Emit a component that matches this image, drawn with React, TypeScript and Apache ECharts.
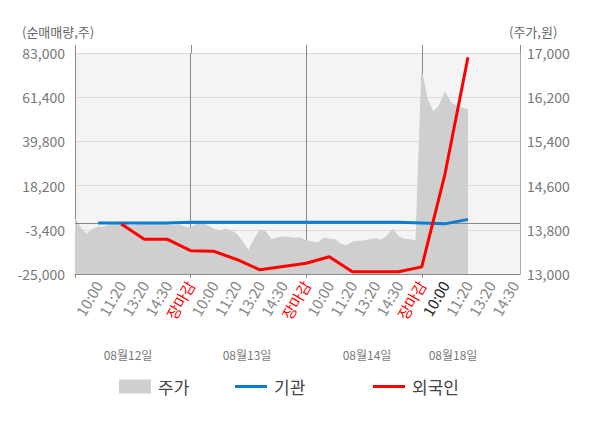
import React, { useEffect, useRef } from "react";
import * as echarts from "echarts";

const DAYS = ["08월12일", "08월13일", "08월14일", "08월18일"];
const SLOT_LABELS = ["10:00", "11:20", "13:20", "14:30", "장마감"];
const HIGHLIGHT_LABEL = "08월18일 10:00";
const STEPS_PER_SLOT = 4;
const SLOTS_PER_DAY = 5;
const TOTAL_STEPS = 77;

const LEFT_TICKS = [-25000, -3400, 18200, 39800, 61400, 83000];
const RIGHT_TICKS = [13000, 13800, 14600, 15400, 16200, 17000];

// 주가 (one value per step)
const PRICE = [
  14000, 13830, 13720, 13810, 13850, 13850, 13890, 13900, 13900, 13890, 13870,
  13890, 13900, 13910, 13900, 13900, 13890, 13870, 13890, 13850, 13830,
  13900, 13940, 13870, 13810, 13780, 13810, 13780, 13720, 13580, 13420,
  13620, 13800, 13760, 13620, 13650, 13670, 13660, 13650, 13650, 13600,
  13580, 13560, 13650, 13630, 13620, 13540, 13510, 13580, 13590, 13600,
  13620, 13640, 13610, 13690, 13810, 13670, 13630, 13620, 13600,
  16640, 16150, 15930, 16040, 16290, 16100, 16040, 16000, 15970,
];

// 기관 / 외국인 (one value per labelled time slot)
const INSTITUTION = [
  null, -100, -100, -100, -100, 300, 300, 300, 300, 300, 300, 300, 300, 300,
  300, -100, -500, 1700,
];
const FOREIGN = [
  null, null, -600, -8040, -8040, -13610, -13900, -17910, -22950, -21330,
  -19720, -16550, -23880, -23880, -23880, -21530, 23600, 80900,
];

const DATE_LABEL_X = [128, 247, 367, 453];

const CATEGORIES: string[] = [];
for (let i = 0; i <= TOTAL_STEPS; i++) {
  if (i > 0 && i % STEPS_PER_SLOT === 0) {
    const s = i / STEPS_PER_SLOT;
    const day = Math.floor((s - 1) / SLOTS_PER_DAY);
    CATEGORIES.push(`${DAYS[day]} ${SLOT_LABELS[(s - 1) % SLOTS_PER_DAY]}`);
  } else {
    CATEGORIES.push(`p${i}`);
  }
}

const expand = (slots: (number | null)[]) => {
  const out: (number | null)[] = new Array(TOTAL_STEPS + 1).fill(null);
  slots.forEach((v, s) => {
    out[s * STEPS_PER_SLOT] = v;
  });
  return out;
};

const FONT = "Noto Sans CJK KR";
const fmt = (v: number) => v.toLocaleString("en-US");

const legendBase = {
  top: 373,
  itemWidth: 32,
  textStyle: { fontSize: 17, color: "#444", fontFamily: FONT, padding: [0, 0, 0, 2] },
};

export default function App() {
  const ref = useRef<HTMLDivElement>(null);
  useEffect(() => {
    const chart = echarts.init(ref.current!, null, { renderer: "svg" });
    const dayStep = STEPS_PER_SLOT * SLOTS_PER_DAY;
    chart.setOption({
      animation: false,
      textStyle: { fontFamily: FONT },
      grid: {
        left: 75,
        right: 80,
        top: 53,
        bottom: 154,
        show: true,
        backgroundColor: "#f4f4f4",
        borderWidth: 0,
      },
      legend: [
        { ...legendBase, data: [{ name: "주가", icon: "rect" }], left: 114, itemHeight: 14 },
        { ...legendBase, data: [{ name: "기관", icon: "rect" }], left: 230, itemHeight: 3 },
        { ...legendBase, data: [{ name: "외국인", icon: "rect" }], left: 368, itemHeight: 3 },
      ],
      xAxis: {
        type: "category",
        data: CATEGORIES,
        boundaryGap: false,
        axisLine: { onZero: false, lineStyle: { color: "#888" } },
        axisTick: {
          show: true,
          interval: (i: number) => i % dayStep === 0,
          length: 4,
          lineStyle: { color: "#888" },
        },
        axisLabel: {
          interval: (i: number) => i > 0 && i % STEPS_PER_SLOT === 0,
          rotate: 60,
          margin: 8,
          fontSize: 15,
          fontFamily: FONT,
          formatter: (v: string) => (v.includes(" ") ? v.split(" ")[1] : ""),
          color: (v: string) =>
            v.endsWith("장마감") ? "#ff0000" : v === HIGHLIGHT_LABEL ? "#222" : "#888",
        },
        splitLine: {
          show: true,
          interval: (i: number) => i > 0 && i % dayStep === 0,
          lineStyle: { color: "#888", width: 1 },
        },
      },
      yAxis: [
        {
          type: "value",
          min: -25000,
          max: 83000,
          axisLine: { show: true, lineStyle: { color: "#888" } },
          axisTick: { show: false, customValues: LEFT_TICKS },
          axisLabel: {
            customValues: LEFT_TICKS,
            formatter: (v: number) => fmt(v),
            fontSize: 14,
            color: "#777",
            margin: 10,
            fontFamily: FONT,
          },
          splitLine: { show: true, lineStyle: { color: "#dadada" } },
        },
        {
          type: "value",
          min: 13000,
          max: 17000,
          position: "right",
          axisLine: { show: true, lineStyle: { color: "#aaa" } },
          axisTick: { show: false, customValues: RIGHT_TICKS },
          axisLabel: {
            customValues: RIGHT_TICKS,
            formatter: (v: number) => fmt(v),
            fontSize: 14,
            color: "#777",
            margin: 7,
            fontFamily: FONT,
          },
          splitLine: { show: false },
        },
      ],
      series: [
        {
          name: "주가",
          type: "line",
          yAxisIndex: 1,
          data: PRICE,
          symbol: "none",
          itemStyle: { color: "#cfcfcf" },
          lineStyle: { width: 1, color: "#cfcfcf" },
          areaStyle: { color: "#cfcfcf", opacity: 1, origin: "start" },
          z: 1,
        },
        {
          name: "기관",
          type: "line",
          yAxisIndex: 0,
          data: expand(INSTITUTION),
          connectNulls: true,
          symbol: "none",
          itemStyle: { color: "#0b7cd0" },
          lineStyle: { width: 3, color: "#0b7cd0" },
          z: 3,
          markLine: {
            silent: true,
            symbol: "none",
            label: { show: false },
            lineStyle: { color: "#888", width: 1, type: "solid" },
            data: [{ yAxis: 0 }],
            z: 2,
          },
        },
        {
          name: "외국인",
          type: "line",
          yAxisIndex: 0,
          data: expand(FOREIGN),
          connectNulls: true,
          symbol: "none",
          itemStyle: { color: "#ff0000" },
          lineStyle: { width: 3, color: "#ff0000" },
          z: 4,
        },
      ],
    });

    const top = chart.convertToPixel({ yAxisIndex: 0 }, LEFT_TICKS[LEFT_TICKS.length - 1]) as number;
    const xs = [0, dayStep, dayStep * 2, dayStep * 3, TOTAL_STEPS].map(
      (i) => chart.convertToPixel({ xAxisIndex: 0 }, i) as number
    );
    chart.setOption({
      graphic: [
        ...xs.map((x) => ({
          type: "line",
          shape: { x1: Math.round(x) + 0.5, y1: top - 8, x2: Math.round(x) + 0.5, y2: top },
          style: { stroke: "#888", lineWidth: 1 },
          silent: true,
        })),
        {
          type: "text",
          left: 22,
          top: 25,
          style: { text: "(순매매량,주)", fontSize: 13, fill: "#666", fontFamily: FONT },
        },
        {
          type: "text",
          left: 509,
          top: 25,
          style: { text: "(주가,원)", fontSize: 13, fill: "#666", fontFamily: FONT },
        },
        ...DAYS.map((d, k) => ({
          type: "text",
          x: DATE_LABEL_X[k],
          y: 354,
          style: {
            text: d,
            fontSize: 12,
            fill: "#777",
            fontFamily: FONT,
            align: "center",
            verticalAlign: "middle",
          },
        })),
      ],
    });
    return () => chart.dispose();
  }, []);
  return (
    <div
      ref={ref}
      style={{ position: "absolute", left: 0, top: 0, width: 600, height: 428 }}
    />
  );
}
